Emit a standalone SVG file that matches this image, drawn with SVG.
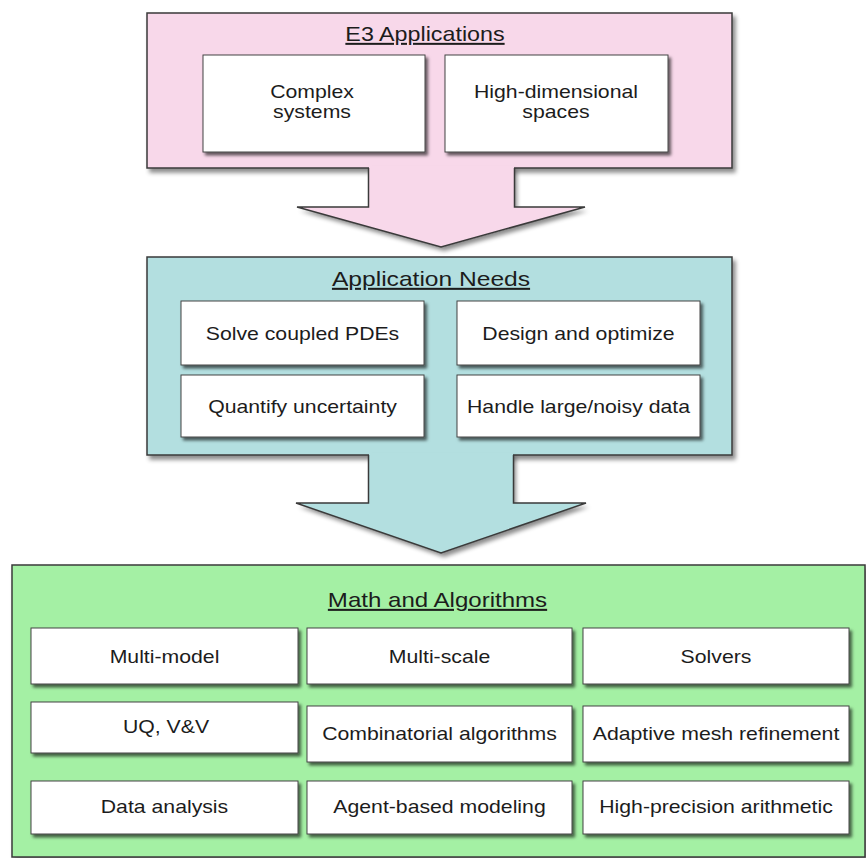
<svg xmlns="http://www.w3.org/2000/svg" width="866" height="858" viewBox="0 0 866 858">
<defs>
<filter id="shIn" x="-10%" y="-10%" width="125%" height="140%"><feDropShadow dx="2.5" dy="3" stdDeviation="1.4" flood-color="#000" flood-opacity="0.6"/></filter>
<filter id="shOut" x="-5%" y="-5%" width="115%" height="120%"><feDropShadow dx="3" dy="4" stdDeviation="2.2" flood-color="#000" flood-opacity="0.45"/></filter>
</defs>
<style>
.outer{stroke:#3a3a3a;stroke-width:1.5}
.pink{fill:#f8d8ea}
.teal{fill:#b3dfe0}
.green{fill:#a4f0a4}
.box{fill:#ffffff;stroke:#444;stroke-width:1}
.t{font-family:"Liberation Sans",Arial,Helvetica,sans-serif;font-size:18px;fill:#1c1c1c;text-anchor:middle}
.h{font-family:"Liberation Sans",Arial,Helvetica,sans-serif;fill:#1c1c1c;text-anchor:middle;text-decoration:underline}
.edge{fill:none;stroke:#3a3a3a;stroke-width:1.5;stroke-linejoin:miter}
</style>

<g id="e3-applications">
<rect class="outer pink" x="147" y="13" width="585" height="155" filter="url(#shOut)"/>
<text class="h" style="font-size:20px" transform="translate(425,41) scale(1.165,1)">E3 Applications</text>
<g id="complex-systems">
<rect class="box" x="203" y="55" width="222" height="97" filter="url(#shIn)"/>
<text class="t" transform="translate(312,98) scale(1.18,1)">Complex</text>
<text class="t" transform="translate(312,118) scale(1.18,1)">systems</text>
</g>
<g id="high-dimensional-spaces">
<rect class="box" x="445" y="55" width="223" height="97" filter="url(#shIn)"/>
<text class="t" transform="translate(556,98) scale(1.18,1)">High-dimensional</text>
<text class="t" transform="translate(556,118) scale(1.18,1)">spaces</text>
</g>
</g>

<g id="application-needs">
<rect class="outer teal" x="147" y="257" width="585" height="198" filter="url(#shOut)"/>
<text class="h" style="font-size:20.5px" transform="translate(431,286) scale(1.2,1)">Application Needs</text>
<g id="solve-coupled-pdes">
<rect class="box" x="181" y="301" width="243" height="64" filter="url(#shIn)"/>
<text class="t" transform="translate(302.5,340) scale(1.18,1)">Solve coupled PDEs</text>
</g>
<g id="design-and-optimize">
<rect class="box" x="457" y="301" width="243" height="64" filter="url(#shIn)"/>
<text class="t" transform="translate(578.5,340) scale(1.18,1)">Design and optimize</text>
</g>
<g id="quantify-uncertainty">
<rect class="box" x="181" y="375" width="243" height="62" filter="url(#shIn)"/>
<text class="t" transform="translate(302.5,413) scale(1.18,1)">Quantify uncertainty</text>
</g>
<g id="handle-data">
<rect class="box" x="457" y="375" width="243" height="62" filter="url(#shIn)"/>
<text class="t" transform="translate(578.5,413) scale(1.18,1)">Handle large/noisy data</text>
</g>
</g>

<g id="math-and-algorithms">
<rect class="outer green" x="12" y="565" width="853" height="292" filter="url(#shOut)"/>
<text class="h" style="font-size:20.5px" transform="translate(437.5,607) scale(1.174,1)">Math and Algorithms</text>
<g id="multi-model">
<rect class="box" x="31" y="628" width="267" height="56" filter="url(#shIn)"/>
<text class="t" transform="translate(164.5,663) scale(1.18,1)">Multi-model</text>
</g>
<g id="multi-scale">
<rect class="box" x="307" y="628" width="265" height="56" filter="url(#shIn)"/>
<text class="t" transform="translate(439.5,663) scale(1.18,1)">Multi-scale</text>
</g>
<g id="solvers">
<rect class="box" x="583" y="628" width="266" height="56" filter="url(#shIn)"/>
<text class="t" transform="translate(716,663) scale(1.18,1)">Solvers</text>
</g>
<g id="uq-vv">
<rect class="box" x="31" y="702" width="267" height="51" filter="url(#shIn)"/>
<text class="t" transform="translate(166,733) scale(1.18,1)">UQ, V&amp;V</text>
</g>
<g id="combinatorial-algorithms">
<rect class="box" x="307" y="706" width="265" height="56" filter="url(#shIn)"/>
<text class="t" transform="translate(439.5,740) scale(1.18,1)">Combinatorial algorithms</text>
</g>
<g id="adaptive-mesh-refinement">
<rect class="box" x="583" y="706" width="266" height="56" filter="url(#shIn)"/>
<text class="t" transform="translate(716,740) scale(1.18,1)">Adaptive mesh refinement</text>
</g>
<g id="data-analysis">
<rect class="box" x="31" y="781" width="267" height="53" filter="url(#shIn)"/>
<text class="t" transform="translate(164.5,813) scale(1.18,1)">Data analysis</text>
</g>
<g id="agent-based-modeling">
<rect class="box" x="307" y="781" width="265" height="53" filter="url(#shIn)"/>
<text class="t" transform="translate(439.5,813) scale(1.18,1)">Agent-based modeling</text>
</g>
<g id="high-precision-arithmetic">
<rect class="box" x="583" y="781" width="266" height="53" filter="url(#shIn)"/>
<text class="t" transform="translate(716,813) scale(1.18,1)">High-precision arithmetic</text>
</g>
</g>

<g id="connectors">
<g id="arrow-e3-to-needs">
<path class="pink" d="M369,166 V207 H297 L441,247 L585,207 H514 V166 Z" filter="url(#shOut)"/>
<path class="edge" d="M368.5,168 V207 H297 L441,247 L585,207 H514.5 V168"/>
</g>
<g id="arrow-needs-to-math">
<path class="teal" d="M369,453 V503 H296 L441,553 L586,503 H513 V453 Z" filter="url(#shOut)"/>
<path class="edge" d="M368.5,455 V503 H296 L441,553 L586,503 H513.5 V455"/>
</g>
</g>
</svg>
